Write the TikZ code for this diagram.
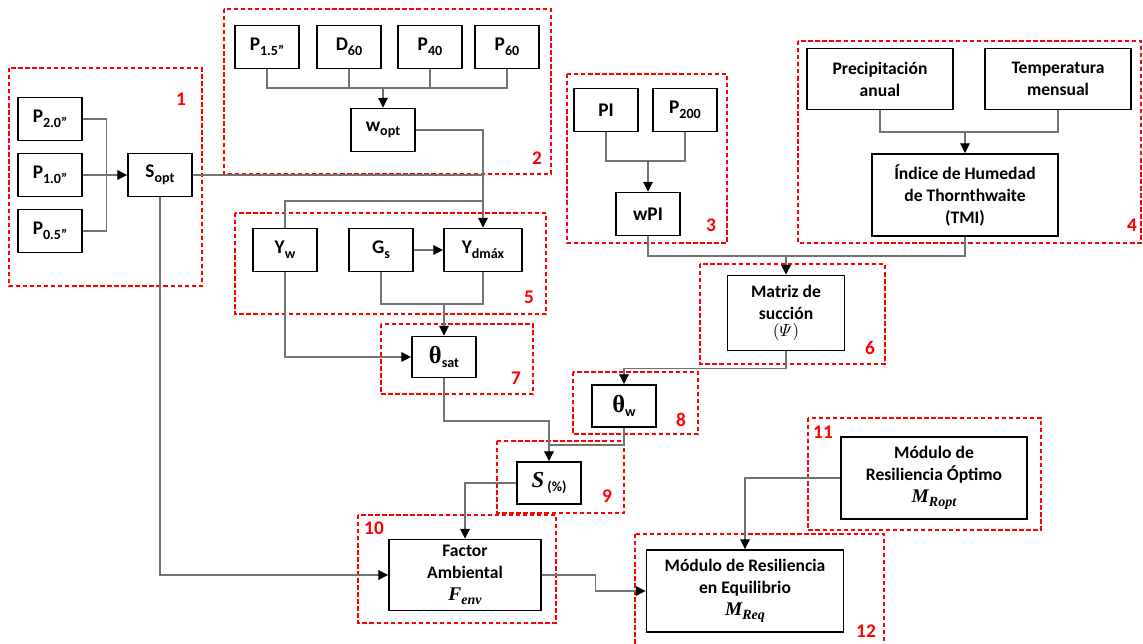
\documentclass[tikz,border=0pt]{standalone}
\usepackage{fontspec}
\usepackage{amsmath}
\setmainfont{Carlito}
\newfontfamily\serifgr{Liberation Serif}
\usetikzlibrary{arrows.meta}
\newcommand{\sbs}[1]{\raisebox{-0.5ex}{\fontsize{8}{8}\selectfont #1}}
\newcommand{\thet}{{\serifgr\bfseries\fontsize{14}{14}\selectfont θ}}
\newcommand{\bmath}[2]{{\serifgr\bfseries\itshape\fontsize{11}{11}\selectfont #1\raisebox{-0.4ex}{\fontsize{8}{8}\selectfont #2}}}

\begin{document}
\begin{tikzpicture}[x = 0.02cm, y = -0.02cm,
  box/.style = {draw, line width = 1.1pt, inner sep = 0pt, align = center,
    font = \bfseries\fontsize{11}{13}\selectfont,
    minimum width = 1.28cm, minimum height = 0.86cm},
  bigbox/.style = {box, font = \bfseries\fontsize{10}{12.5}\selectfont},
  group/.style = {draw = red, line width = 0.9pt, dash pattern = on 2.5pt off 1.5pt},
  num/.style = {text = red, font = \bfseries\fontsize{11}{11}\selectfont},
  link/.style = {draw = black!55, line width = 0.6pt},
  arr/.style = {link, -{Triangle[length = 5.5pt, width = 5.5pt, black]}}]
  \useasboundingbox (0, 0) rectangle (1143, 644);
  \draw[group] (9, 68) rectangle (202, 286);
  \draw[group] (224, 9) rectangle (551, 174);
  \draw[group] (567, 74) rectangle (727, 243);
  \draw[group] (798, 41) rectangle (1141, 243);
  \draw[group] (235, 213) rectangle (546, 314);
  \draw[group] (700, 264) rectangle (885, 364);
  \draw[group] (381, 324) rectangle (533, 394);
  \draw[group] (573, 372) rectangle (698, 434);
  \draw[group] (497, 441) rectangle (624, 513);
  \draw[group] (358, 515) rectangle (556, 623);
  \draw[group] (808, 418) rectangle (1041, 530);
  \draw[group] (635, 534) rectangle (884, 660);
  \node[num] (n1) at (181, 99) {1};
  \node[num] (n2) at (537, 158) {2};
  \node[num] (n3) at (711, 225) {3};
  \node[num] (n4) at (1132, 225) {4};
  \node[num] (n5) at (529, 297) {5};
  \node[num] (n6) at (870, 348) {6};
  \node[num] (n7) at (516, 378) {7};
  \node[num] (n8) at (681, 420) {8};
  \node[num] (n9) at (607, 496) {9};
  \node[num] (n10) at (374, 528) {10};
  \node[num] (n11) at (823, 432) {11};
  \node[num] (n12) at (866, 631) {12};

  \node[box] (p20) at (50, 119) {P\sbs{2.0”}};
  \node[box] (p10) at (50, 175) {P\sbs{1.0”}};
  \node[box] (p05) at (50, 231) {P\sbs{0.5”}};
  \node[box] (sopt) at (160, 175) {S\sbs{opt}};
  \node[box] (p15) at (267, 47) {P\sbs{1.5”}};
  \node[box] (d60) at (349, 47) {D\sbs{60}};
  \node[box] (p40) at (430, 47) {P\sbs{40}};
  \node[box] (p60) at (507, 47) {P\sbs{60}};
  \node[box] (wopt) at (383, 130) {w\sbs{opt}};
  \node[box] (yw) at (285, 250) {Y\sbs{w}};
  \node[box] (gs) at (381, 250) {G\sbs{s}};
  \node[box, minimum width = 1.56cm] (ydmax) at (483, 250) {Y\sbs{dmáx}};
  \node[box, minimum height = 0.82cm] (tsat) at (444, 357) {\thet\sbs{sat}};
  \node[box] (pi) at (606, 110) {PI};
  \node[box] (p200) at (685, 110) {P\sbs{200}};
  \node[box] (wpi) at (648, 214) {wPI};
  \node[bigbox, minimum width = 2.92cm, minimum height = 1.22cm] (precip) at (880, 79) {Precipitación\\anual};
  \node[bigbox, minimum width = 2.92cm, minimum height = 1.22cm] (temp) at (1058, 79) {Temperatura\\mensual};
  \node[bigbox, minimum width = 3.72cm, minimum height = 1.64cm] (tmi) at (965, 195) {Índice de Humedad\\de Thornthwaite\\(TMI)};
  \node[bigbox, minimum width = 2.34cm, minimum height = 1.5cm] (matriz) at (786, 313) {Matriz de\\succión\\[-3pt]$(\varPsi)$};
  \node[box, minimum height = 0.84cm] (tw) at (624, 406) {\thet\sbs{w}};
  \node[box, minimum height = 0.84cm] (spct) at (549, 483) {{\serifgr\bfseries\itshape\fontsize{13}{13}\selectfont S}\,\sbs{(\%)}};
  \node[bigbox, minimum width = 3.04cm, minimum height = 1.42cm] (fenv) at (465, 575) {Factor\\Ambiental\\\bmath{F}{env}};
  \node[bigbox, minimum width = 3.72cm, minimum height = 1.64cm] (mropt) at (934, 478) {Módulo de\\Resiliencia Óptimo\\\bmath{M}{Ropt}};
  \node[bigbox, minimum width = 3.94cm, minimum height = 1.64cm] (mreq) at (745, 591) {Módulo de Resiliencia\\en Equilibrio\\\bmath{M}{Req}};

  \coordinate (j2) at (383, 88);
  \coordinate (j3) at (0, 161);
  \coordinate (j4) at (0, 132);
  \coordinate (j5) at (0, 201);
  \coordinate (j6) at (0, 256);
  \coordinate (j7) at (0, 304);
  \coordinate (j9) at (0, 421);
  \coordinate (j9b) at (0, 445);
  \draw[link] (p20.east) -- ++(24, 0) |- (p05.east);
  \draw[arr] (p10) -- (sopt);
  \draw[link] (p15.south) |- (j2) -| (p60.south);
  \draw[link] (d60.south) -- (d60.south |- j2);
  \draw[link] (p40.south) -- (p40.south |- j2);
  \draw[arr] (j2) -- (wopt.north);
  \draw[arr] (wopt.east) -| (ydmax.north);
  \draw[link] (sopt.east) -- (sopt.east -| ydmax.north);
  \draw[link] (yw.north) |- (ydmax.north |- j5);
  \draw[arr] (gs) -- (ydmax);
  \draw[link] (gs.south) |- (ydmax.south |- j7) -- (ydmax.south);
  \draw[arr] (tsat.north |- j7) -- (tsat.north);
  \draw[arr] (yw.south) |- (tsat.west);
  \draw[link] (pi.south) |- (p200.south |- j3) -- (p200.south);
  \draw[arr] (wpi.north |- j3) -- (wpi.north);
  \draw[link] (precip.south) |- (temp.south |- j4) -- (temp.south);
  \draw[arr] (tmi.north |- j4) -- (tmi.north);
  \draw[link] (wpi.south) |- (tmi.south |- j6) -- (tmi.south);
  \draw[arr] (matriz.north |- j6) -- (matriz.north);
  \draw[arr] (matriz.south) -- ++(0, 17) -| (tw.north);
  \draw[arr] (tsat.south) |- (spct.north |- j9) -- (spct.north);
  \draw[link] (tw.south) |- (spct.north |- j9b);
  \draw[arr] (spct.west) -| (fenv.north);
  \draw[arr] (sopt.south) |- (fenv.west);
  \draw[arr] (fenv.east) -- ++(54, 0) |- (mreq.west);
  \draw[arr] (mropt.west) -| (mreq.north);
\end{tikzpicture}
\end{document}
